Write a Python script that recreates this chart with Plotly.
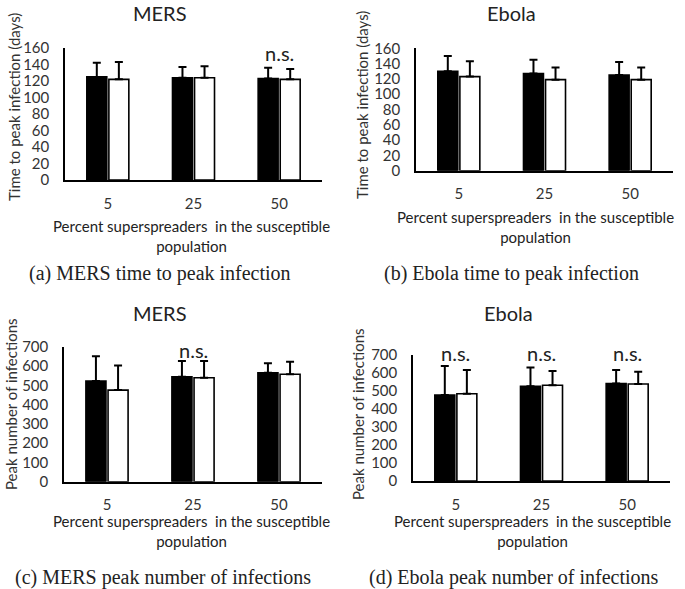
import plotly.graph_objects as go

W, H = 685, 589

categories = ["5", "25", "50"]

mers_time_black = [125, 124, 123]
mers_time_black_err = [17, 13, 13]
mers_time_white = [122, 124, 122]
mers_time_white_err = [21, 14, 12.5]

ebola_time_black = [130, 127, 125]
ebola_time_black_err = [20, 18, 17]
ebola_time_white = [123, 119, 119]
ebola_time_white_err = [20, 16, 16]

mers_peak_black = [522, 544, 565]
mers_peak_black_err = [129, 82, 49]
mers_peak_white = [475, 539, 557]
mers_peak_white_err = [128, 87, 65]

ebola_peak_black = [478, 526, 541]
ebola_peak_black_err = [161, 104, 76]
ebola_peak_white = [485, 532, 539]
ebola_peak_white_err = [132, 79, 68]

titles = ["MERS", "Ebola", "MERS", "Ebola"]
y_titles = ["Time to peak infection (days)", "Time to peak infection (days)",
            "Peak number of infections", "Peak number of infections"]
x_title = "Percent superspreaders  in the susceptible<br>population"
captions = ["(a) MERS time to peak infection", "(b) Ebola time to peak infection",
            "(c) MERS peak number of infections", "(d) Ebola peak number of infections"]
ns_labels = [  # (panel, category, y value)
    (0, "50", 154),
    (2, "25", 683),
    (3, "5", 712), (3, "25", 712), (3, "50", 712),
]

SANS = "Lato"
SERIF = "Liberation Serif"
TXT = "#333333"

def px(x):
    return x / W

def py(y):
    return 1 - y / H

# panel geometry in window pixels: (x0, x1, y_bottom, y_top)
panels = [
    (65, 322, 180, 48),
    (416, 673, 170.7, 48.3),
    (64, 322, 481.7, 346.7),
    (413, 670, 481, 355),
]
yranges = [(0, 160, 20), (0, 160, 20), (0, 700, 100), (0, 700, 100)]
data = [
    (mers_time_black, mers_time_black_err, mers_time_white, mers_time_white_err),
    (ebola_time_black, ebola_time_black_err, ebola_time_white, ebola_time_white_err),
    (mers_peak_black, mers_peak_black_err, mers_peak_white, mers_peak_white_err),
    (ebola_peak_black, ebola_peak_black_err, ebola_peak_white, ebola_peak_white_err),
]

fig = go.Figure()
layout = dict(
    width=W, height=H, margin=dict(l=0, r=0, t=0, b=0, pad=0, autoexpand=False),
    paper_bgcolor="white", plot_bgcolor="white", showlegend=False,
    barmode="group", bargap=0.485, bargroupgap=0.095,
    font=dict(family=SANS, size=14, color=TXT),
)
annotations = []

for i, (geom, yr, d) in enumerate(zip(panels, yranges, data)):
    x0, x1, yb, yt = geom
    n = i + 1
    xa = "x" if n == 1 else f"x{n}"
    ya = "y" if n == 1 else f"y{n}"
    bk, bke, wh, whe = d
    for vals, errs, col in ((bk, bke, "black"), (wh, whe, "white")):
        fig.add_trace(go.Bar(
            x=categories, y=vals, xaxis=xa, yaxis=ya,
            marker=dict(color=col, line=dict(color="black", width=1.6)),
            error_y=dict(type="data", array=errs, arrayminus=[0] * len(errs),
                         symmetric=False, color="black", thickness=2, width=4),
        ))
    layout[f"xaxis{n if n > 1 else ''}"] = dict(
        domain=[px(x0), px(x1)], anchor=ya, type="category", automargin=False,
        range=[-0.5, 2.5], showline=True, linecolor="black", linewidth=1.5,
        ticks="outside", ticklen=9, tickcolor="rgba(0,0,0,0)",
        showgrid=False, zeroline=False, tickfont=dict(size=15, color=TXT),
    )
    layout[f"yaxis{n if n > 1 else ''}"] = dict(
        domain=[py(yb), py(yt)], anchor=xa, range=[yr[0], yr[1]], dtick=yr[2],
        automargin=False,
        showline=True, linecolor="black", linewidth=1.5,
        ticks="outside", ticklen=11, tickcolor="rgba(0,0,0,0)",
        showgrid=False, zeroline=False, tickfont=dict(size=15, color=TXT),
    )

# titles, axis titles, captions (window pixel centres)
title_pos = [(160, 13), (512, 13), (160, 313), (508, 313)]
ytitle_pos = [(14, 107), (362, 105), (11, 404), (358, 414)]
xtitle_pos = [(191, 236), (535, 227), (191, 531), (532, 531)]
caption_pos = [(160, 274), (512, 274), (163, 577), (514, 577)]

for i in range(4):
    tx, ty = title_pos[i]
    annotations.append(dict(x=px(tx), y=py(ty), xref="paper", yref="paper",
                            text=titles[i], showarrow=False,
                            font=dict(family=SANS, size=20, color="#222222"),
                            xanchor="center", yanchor="middle"))
    yx, yy = ytitle_pos[i]
    annotations.append(dict(x=px(yx), y=py(yy), xref="paper", yref="paper",
                            text=y_titles[i], showarrow=False, textangle=-90,
                            font=dict(family=SANS, size=15, color=TXT),
                            xanchor="center", yanchor="middle"))
    xx, xy = xtitle_pos[i]
    annotations.append(dict(x=px(xx), y=py(xy), xref="paper", yref="paper",
                            text=x_title, showarrow=False,
                            font=dict(family=SANS, size=15, color="#222222"),
                            xanchor="center", yanchor="middle"))
    cx, cy = caption_pos[i]
    annotations.append(dict(x=px(cx), y=py(cy), xref="paper", yref="paper",
                            text=captions[i], showarrow=False,
                            font=dict(family=SERIF, size=20, color="#222222"),
                            xanchor="center", yanchor="middle"))

for p, cat, val in ns_labels:
    n = p + 1
    x0, x1, yb, yt = panels[p]
    ymax = yranges[p][1]
    pix_per_unit = (yb - yt) / ymax
    yv = min(val, ymax - 1)  # keep the anchor inside the axis range
    annotations.append(dict(x=categories.index(cat), y=yv,
                            yshift=(val - yv) * pix_per_unit,
                            xref="x" if n == 1 else f"x{n}",
                            yref="y" if n == 1 else f"y{n}",
                            text="n.s.", showarrow=False,
                            font=dict(family=SANS, size=20, color="#222222"),
                            xanchor="center", yanchor="middle"))

layout["annotations"] = annotations
fig.update_layout(**layout)
fig.write_html(
    "out.html",
    config={"displayModeBar": False},
    post_script="document.body.style.margin='0';document.body.style.overflow='hidden';",
)
